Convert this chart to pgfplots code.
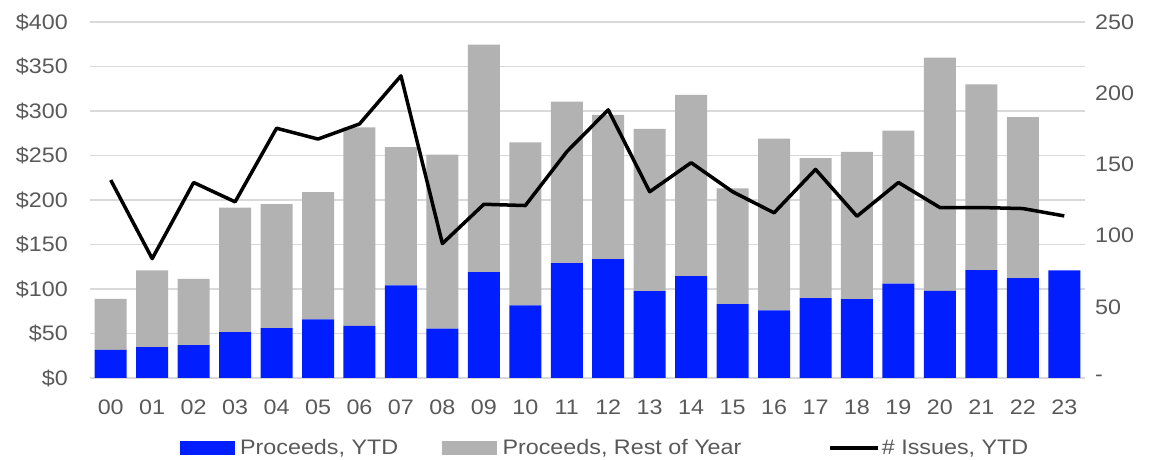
\documentclass[border=0pt]{standalone}
\usepackage{fontspec}
\setmainfont{Liberation Sans}[FakeStretch=1.11]
\usepackage{pgfplots}
\usepackage{pgfplotstable}
\pgfplotsset{compat=1.18}
\definecolor{ytdblue}{RGB}{0,30,255}
\definecolor{restgray}{RGB}{178,178,178}
\definecolor{gridgray}{RGB}{217,217,217}
\definecolor{labgray}{RGB}{89,89,89}
\pgfplotstableread{
x ytd rest issues
0 31.5 57.5 139
1 34.6 86.4 83.8
2 36.8 74.7 137.3
3 51.5 140.0 123.7
4 56.0 139.3 175.4
5 66.0 142.8 167.8
6 58.6 223.1 178.4
7 104.0 155.5 212.2
8 55.6 195.4 94.4
9 119.0 255.5 122
10 81.5 183.3 121.1
11 129.0 181.6 158.9
12 133.7 161.9 188.3
13 97.7 182.3 130.8
14 114.6 203.4 151.2
15 83.0 130.0 130.8
16 75.9 193.1 116
17 89.8 157.2 146.5
18 88.6 165.4 113.6
19 106.0 172.0 137.3
20 98.0 262.0 119.7
21 121.3 208.7 119.7
22 112.3 180.7 119
23 121.0 0 113.8
}\datatable
\begin{document}
\begin{tikzpicture}
\pgfplotsset{
  every tick label/.append style={font=\fontsize{21}{25}\selectfont, text=labgray},
  base/.style={
    scale only axis, width=995pt, height=356pt,
    xmin=-0.5, xmax=23.5,
    axis line style={draw=none},
    major tick style={draw=none},
  }
}
\begin{axis}[base, name=ax,
  ybar stacked, bar width=32pt,
  ymin=0, ymax=400,
  ytick={0,50,...,400},
  yticklabels={\$0,\$50,\$100,\$150,\$200,\$250,\$300,\$350,\$400},
  yticklabel style={inner sep=0pt, xshift=-22pt, text=labgray},
  xtick={0,...,23},
  xticklabels={00,01,02,03,04,05,06,07,08,09,10,11,12,13,14,15,16,17,18,19,20,21,22,23},
  xticklabel style={inner sep=0pt, yshift=-22pt, text=labgray},
  ymajorgrids, major grid style={draw=gridgray, line width=1.5pt},
]
\addplot[fill=ytdblue, draw=none] table[x=x, y=ytd] {\datatable};
\addplot[fill=restgray, draw=none] table[x=x, y=rest] {\datatable};
\end{axis}
\begin{axis}[base,
  axis y line*=right, axis x line=none,
  ymin=0, ymax=250,
  ytick={0,50,...,250},
  yticklabels={-,50,100,150,200,250},
  yticklabel style={inner sep=0pt, xshift=10pt, anchor=west, text=labgray},
  legend style={draw=none, fill=none, at={(0.5176,-0.197)}, anchor=center,
    legend columns=-1, font=\fontsize{21}{25}\selectfont, text=labgray,
    /tikz/every even column/.append style={column sep=0pt},
    inner sep=0pt},
  legend cell align=left,
]
\addlegendimage{legend image code/.code={\fill[ytdblue] (0pt,-6.5pt) rectangle (54pt,6.5pt);}}
\addlegendentry{\hspace*{4pt}Proceeds, YTD\hspace*{42pt}}
\addlegendimage{legend image code/.code={\fill[restgray] (0pt,-6.5pt) rectangle (54pt,6.5pt);}}
\addlegendentry{\hspace*{4pt}Proceeds, Rest of Year\hspace*{85pt}}
\addplot[black, line width=3.5pt, line join=round, mark=none,
  legend image code/.code={\draw[black, line width=3.5pt] (0pt,0pt) -- (48pt,0pt);}]
  table[x=x, y=issues] {\datatable};
\addlegendentry{\# Issues, YTD}
\end{axis}
\path ([xshift=-90pt,yshift=-82pt]ax.south west) rectangle ([xshift=71pt,yshift=22pt]ax.north east);
\end{tikzpicture}
\end{document}
